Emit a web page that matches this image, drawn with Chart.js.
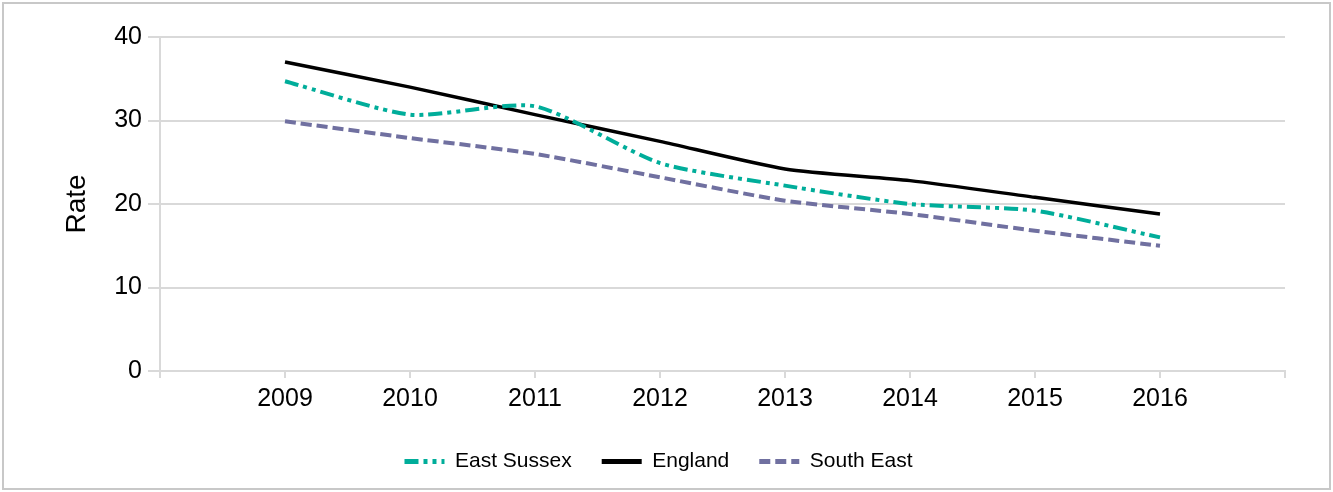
<!DOCTYPE html>
<html><head><meta charset="utf-8">
<script src="https://cdn.jsdelivr.net/npm/chart.js@4"></script>
<style>html,body{margin:0;padding:0;background:#fff}#wrap{width:1333px;height:492px;position:relative}</style>
</head><body><div id="wrap"><canvas id="c" width="1333" height="492"></canvas></div>
<script>
const categories = ['', '2009', '2010', '2011', '2012', '2013', '2014', '2015', '2016', ''];
const eastSussex = [null, 34.7, 30.7, 31.7, 24.9, 22.2, 20.0, 19.2, 16.0, null];
const england = [null, 37.0, 34.0, 30.7, 27.5, 24.2, 22.8, 20.8, 18.8, null];
const southEast = [null, 29.9, 27.9, 26.0, 23.2, 20.4, 18.8, 16.8, 15.0, null];
const yTicks = [0, 10, 20, 30, 40];

const FONT = 'Liberation Sans, Arial, sans-serif';

const borderPlugin = {
  id: 'frame',
  beforeDraw(chart) {
    const ctx = chart.ctx;
    ctx.save();
    ctx.fillStyle = '#fff';
    ctx.fillRect(0, 0, chart.width, chart.height);
    ctx.strokeStyle = '#c8c8c8';
    ctx.lineWidth = 2;
    ctx.strokeRect(3, 3, chart.width - 6, chart.height - 6);
    ctx.restore();
  }
};

const legendShift = {
  id: 'legendShift',
  afterLayout(chart) {
    if (chart.legend) {
      chart.legend.left += 16;
      chart.legend.right += 16;
    }
  }
};

new Chart(document.getElementById('c'), {
  type: 'line',
  data: {
    labels: categories,
    datasets: [
      { label: 'East Sussex', data: eastSussex, borderColor: '#00ad9a', backgroundColor: '#00ad9a', borderWidth: 4, borderDash: [14, 5, 4, 5, 4, 5], pointRadius: 0, tension: 0.22 },
      { label: 'England', data: england, borderColor: '#000000', backgroundColor: '#000000', borderWidth: 3.5, pointRadius: 0, tension: 0.22 },
      { label: 'South East', data: southEast, borderColor: '#7070a0', backgroundColor: '#7070a0', borderWidth: 4, borderDash: [11, 5], pointRadius: 0, tension: 0.22 }
    ]
  },
  options: {
    responsive: false,
    animation: false,
    layout: { padding: { left: 0, right: 48, top: 37, bottom: 10 } },
    plugins: {
      tooltip: { enabled: false },
      legend: {
        position: 'bottom',
        labels: {
          usePointStyle: true, pointStyle: 'line', pointStyleWidth: 40,
          boxHeight: 5,
          color: '#000', padding: 30,
          font: { family: FONT, size: 21 },
          generateLabels(chart) {
            return chart.data.datasets.map((ds, i) => ({
              text: ds.label,
              strokeStyle: ds.borderColor,
              fillStyle: ds.borderColor,
              lineWidth: 5,
              lineDash: ds.borderDash || [],
              lineCap: 'butt',
              pointStyle: 'line',
              hidden: false,
              datasetIndex: i,
              fontColor: '#000'
            }));
          }
        }
      }
    },
    scales: {
      x: {
        offset: false,
        grid: { display: true, drawOnChartArea: false, drawTicks: true, tickLength: 7, color: '#d9d9d9', lineWidth: 2 },
        border: { display: true, color: '#d9d9d9', width: 2 },
        ticks: { color: '#000', font: { family: FONT, size: 25 }, maxRotation: 0, autoSkip: false, padding: 6 },
        afterFit(s) { s.height = 50; }
      },
      y: {
        min: 0, max: 40,
        afterBuildTicks(s) { s.ticks = yTicks.map(v => ({ value: v })); },
        grid: { color: '#d9d9d9', lineWidth: 2, tickLength: 12 },
        border: { display: true, color: '#d9d9d9', width: 2 },
        ticks: { color: '#000', font: { family: FONT, size: 25 }, padding: 6 },
        title: { display: true, text: 'Rate', color: '#000', font: { family: FONT, size: 28 }, padding: { top: 60, bottom: 0 } },
        afterFit(s) { s.width = 160; }
      }
    }
  },
  plugins: [borderPlugin, legendShift]
});
</script></body></html>
